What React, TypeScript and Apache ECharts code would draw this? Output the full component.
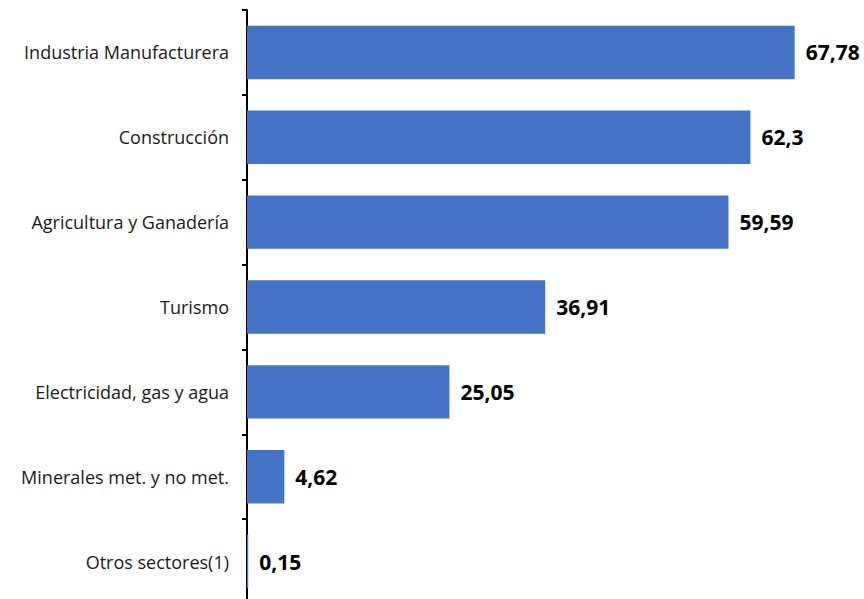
import React, { useEffect, useRef } from "react";
import * as echarts from "echarts";

const categories = [
  "Industria Manufacturera",
  "Construcción",
  "Agricultura y Ganadería",
  "Turismo",
  "Electricidad, gas y agua",
  "Minerales met. y no met.",
  "Otros sectores(1)",
];
const values = [67.78, 62.3, 59.59, 36.91, 25.05, 4.62, 0.15];

export default function App() {
  const ref = useRef<HTMLDivElement>(null);
  useEffect(() => {
    const chart = echarts.init(ref.current!, null, { renderer: "svg" });
    chart.setOption({
      animation: false,
      grid: {
        left: 247,
        top: 10,
        width: 646.4,
        height: 594,
        containLabel: false,
        outerBoundsMode: "none",
      },
      xAxis: {
        type: "value",
        min: 0,
        max: 80,
        show: false,
      },
      yAxis: {
        type: "category",
        data: categories,
        inverse: true,
        axisLine: { show: true, lineStyle: { color: "#000", width: 2 } },
        axisTick: { show: true, length: 5, lineStyle: { color: "#000", width: 2 } },
        axisLabel: {
          margin: 18,
          fontFamily: "Open Sans",
          fontSize: 18,
          color: "#1a1a1a",
        },
      },
      series: [
        {
          type: "bar",
          data: values,
          barCategoryGap: "37%",
          itemStyle: { color: "#4472C4" },
          label: {
            show: true,
            position: "right",
            distance: 11,
            fontFamily: "Open Sans",
            fontWeight: "bold",
            fontSize: 21,
            color: "#000",
            formatter: (p: any) => String(p.value).replace(".", ","),
          },
        },
      ],
    });
    return () => chart.dispose();
  }, []);
  return <div ref={ref} style={{ width: 864, height: 599, position: "absolute", left: 0, top: 0 }} />;
}
